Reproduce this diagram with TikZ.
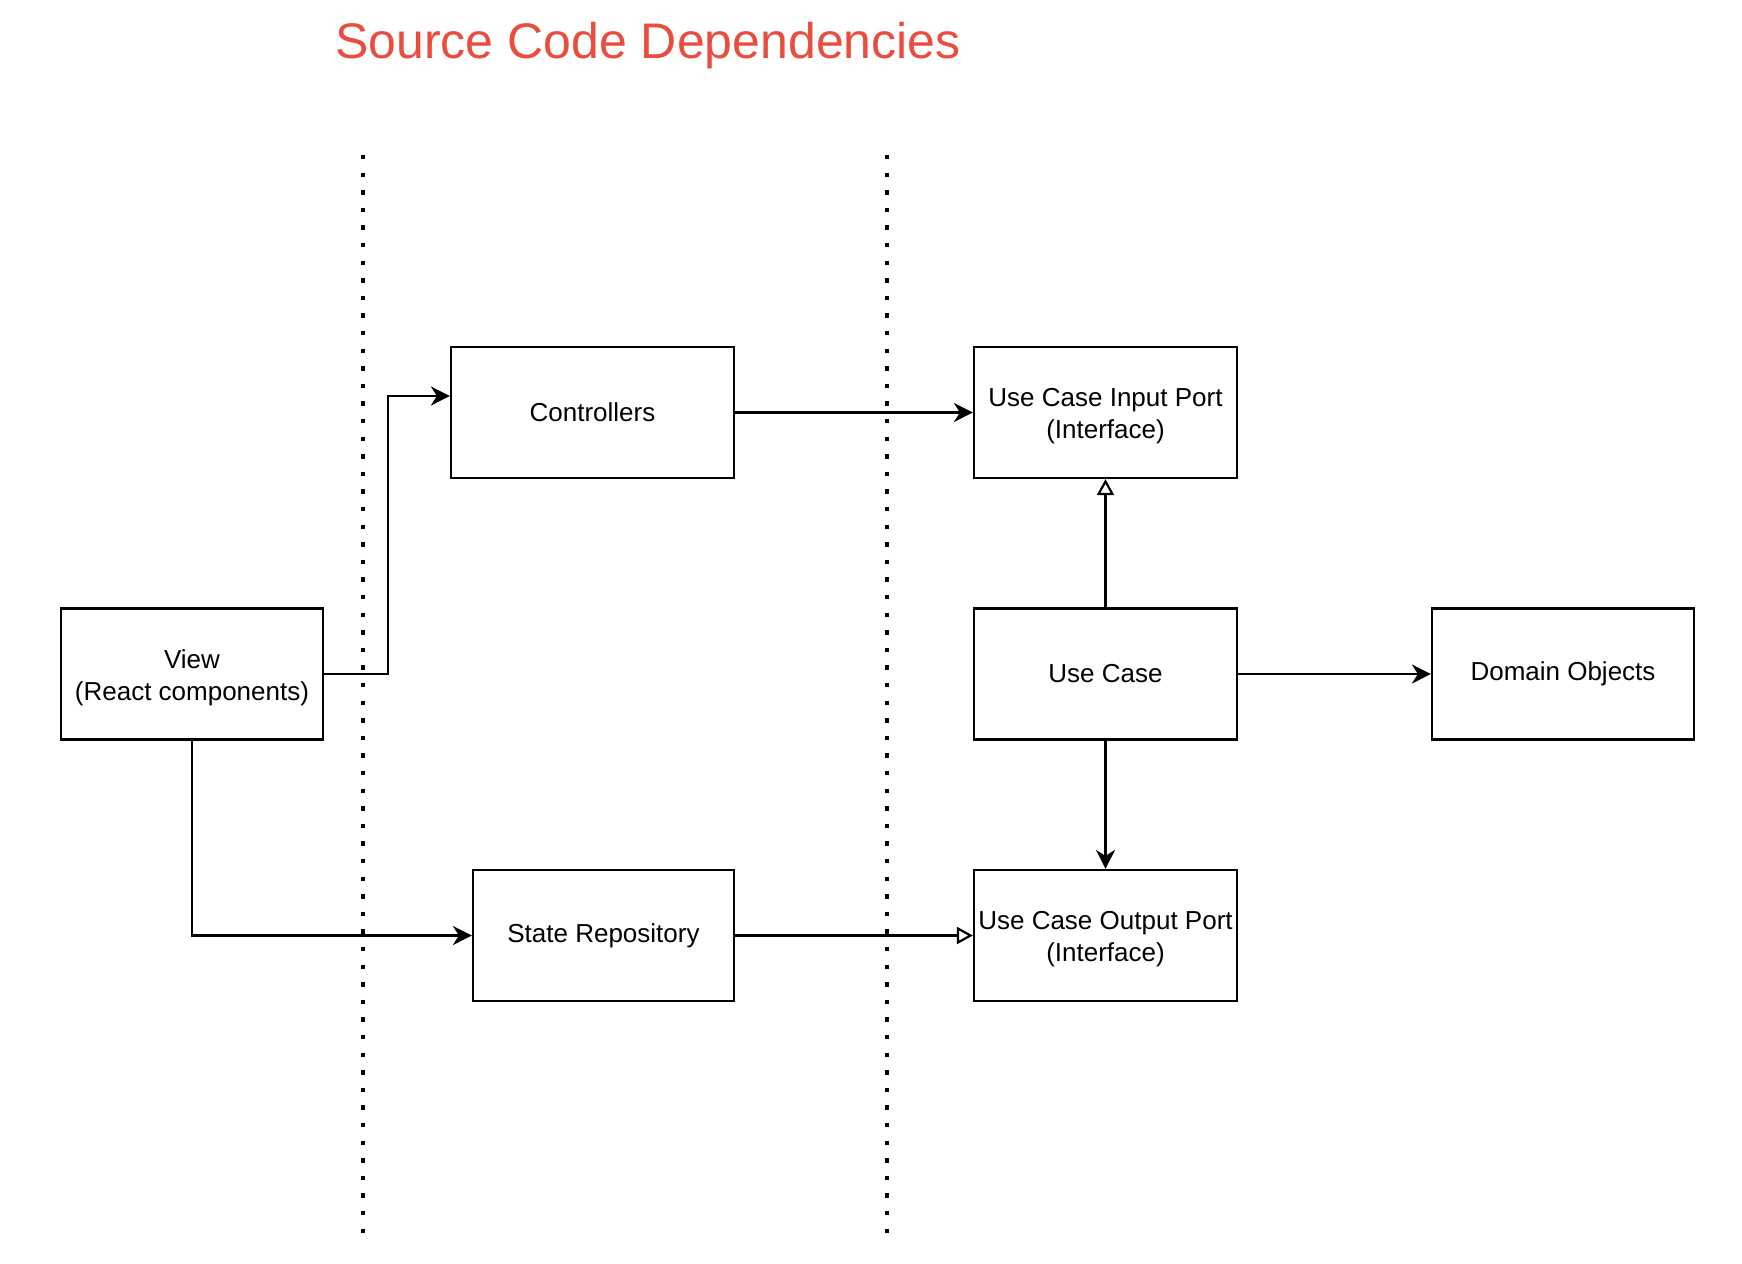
\documentclass[tikz,border=0pt]{standalone}
\usepackage{fontspec}
\setmainfont{Liberation Sans}
\usetikzlibrary{arrows.meta}
\definecolor{titlered}{RGB}{234,76,61}
\newcommand{\topstrut}{\rule{0pt}{12.7pt}}
\begin{document}
\begin{tikzpicture}[x=0.5pt,y=-0.5pt,
  box/.style={draw, line width=1.09pt, inner sep=0pt, minimum height=65.5pt, align=center, font=\fontsize{13}{16}\selectfont},
  conn/.style={line width=1.09pt, -{Stealth[length=9.5pt,width=9.5pt,inset=3pt]}},
  impl/.style={line width=1.09pt, -{Triangle[open,length=8pt,width=8.5pt]}},
  sepline/.style={line width=2.2pt, dash pattern=on 2.2pt off 6.6pt}]
\useasboundingbox (0,0) rectangle (1742,1264);
\fill[white] (0,0) rectangle (1742,1264);

\node[font=\fontsize{25}{30}\selectfont, text=titlered, anchor=base] (title) at (648,58) {Source Code Dependencies};

% separators
\coordinate (s1t) at (363,155);
\coordinate (s1b) at (363,1241);
\coordinate (s2t) at (887,155);
\coordinate (s2b) at (887,1241);
\draw[sepline] (s1t) -- (s1b);
\draw[sepline] (s2t) -- (s2b);

% boxes
\node[box, minimum width=141.5pt] (ctrl) at (592.5,412.5) {Controllers};
\node[box, minimum width=131.5pt] (uip) at (1105.5,412.5) {\topstrut Use Case Input Port\\(Interface)};
\node[box, minimum width=131pt] (view) at (192,674) {\topstrut View\\(React components)};
\node[box, minimum width=131.5pt] (uc) at (1105.5,674) {Use Case};
\node[box, minimum width=131pt] (dom) at (1563,674) {Domain Objects};
\node[box, minimum width=130.5pt] (repo) at (603.5,935.5) {State Repository};
\node[box, minimum width=131.5pt] (uop) at (1105.5,935.5) {\topstrut Use Case Output Port\\(Interface)};

% connectors
\coordinate (c1) at (388,674);
\coordinate (c2) at (388,396);
\coordinate (ctrlin) at (ctrl.west |- c2);
\draw[conn] (view.east) -- (c1) -- (c2) -- (ctrlin);
\draw[conn] (ctrl.east) -- (uip.west |- ctrl.east);
\draw[impl] (uc.north) -- (uip.south);
\draw[conn] (uc.east) -- (dom.west);
\draw[conn] (uc.south) -- (uop.north);
\draw[conn] (view.south) |- (repo.west);
\draw[impl] (repo.east) -- (uop.west);
\end{tikzpicture}
\end{document}
